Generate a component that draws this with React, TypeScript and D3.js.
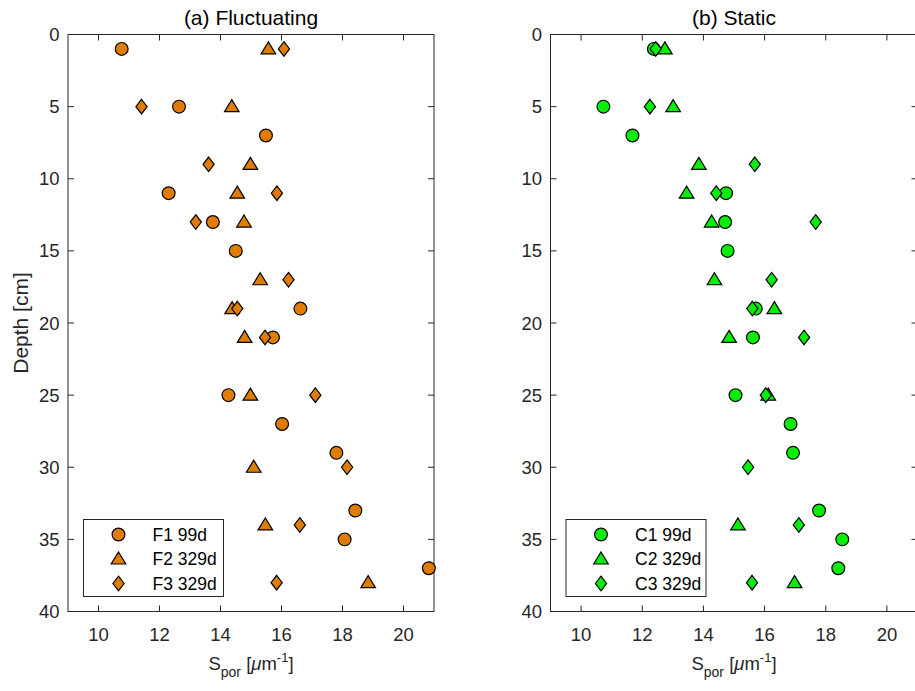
import React from 'react';
import * as d3 from 'd3';

// ---- data ----
const xTicks = [10, 12, 14, 16, 18, 20];
const yTicks = [0, 5, 10, 15, 20, 25, 30, 35, 40];

const depthsF1 = [1, 5, 7, 11, 13, 15, 19, 21, 25, 27, 29, 33, 35, 37];
const valuesF1 = [10.76, 12.64, 15.49, 12.3, 13.75, 14.5, 16.62, 15.72, 14.26, 16.02, 17.8, 18.42, 18.07, 20.83];
const depthsF2 = [1, 5, 9, 11, 13, 17, 19, 21, 25, 30, 34, 38];
const valuesF2 = [15.57, 14.37, 14.98, 14.55, 14.77, 15.3, 14.38, 14.79, 14.98, 15.09, 15.47, 18.84];
const depthsF3 = [1, 5, 9, 11, 13, 17, 19, 21, 25, 30, 34, 38];
const valuesF3 = [16.08, 11.41, 13.61, 15.85, 13.19, 16.23, 14.55, 15.46, 17.11, 18.15, 16.6, 15.84];

const depthsC1 = [1, 5, 7, 11, 13, 15, 19, 21, 25, 27, 29, 33, 35, 37];
const valuesC1 = [12.38, 10.73, 11.68, 14.74, 14.71, 14.79, 15.71, 15.62, 15.05, 16.85, 16.93, 17.78, 18.54, 18.41];
const depthsC2 = [1, 5, 9, 11, 13, 17, 19, 21, 25, 34, 38];
const valuesC2 = [12.74, 13.01, 13.85, 13.45, 14.27, 14.36, 16.32, 14.84, 16.12, 15.13, 16.98];
const depthsC3 = [1, 5, 9, 11, 13, 17, 19, 21, 25, 30, 34, 38];
const valuesC3 = [12.44, 12.25, 15.68, 14.42, 17.67, 16.23, 15.6, 17.29, 16.04, 15.46, 17.12, 15.59];

const labelsF = ['F1 99d', 'F2 329d', 'F3 329d'];
const labelsC = ['C1 99d', 'C2 329d', 'C3 329d'];

const ORANGE = '#E07D00';
const GREEN = '#05EE05';
const AXIS = '#262626';
const FONT = '"Liberation Sans", Arial, Helvetica, sans-serif';

type Shape = 'circle' | 'triangle' | 'diamond';

function Marker({ shape, x, y, fill }: { shape: Shape; x: number; y: number; fill: string }) {
  const common = { fill, stroke: '#000', strokeWidth: 1.2 };
  if (shape === 'circle') return <circle cx={x} cy={y} r={6.4} {...common} />;
  if (shape === 'triangle') {
    const p = d3.path();
    p.moveTo(x, y - 7);
    p.lineTo(x + 7.3, y + 5);
    p.lineTo(x - 7.3, y + 5);
    p.closePath();
    return <path d={p.toString()} {...common} />;
  }
  const p = d3.path();
  p.moveTo(x, y - 7.3);
  p.lineTo(x + 5.6, y);
  p.lineTo(x, y + 7.3);
  p.lineTo(x - 5.6, y);
  p.closePath();
  return <path d={p.toString()} {...common} />;
}

interface PanelProps {
  x0: number;
  x1: number;
  title: string;
  color: string;
  series: { depths: number[]; values: number[]; shape: Shape }[];
  labels: string[];
  showYLabel: boolean;
}

const Y0 = 34.5;
const Y1 = 611.5;

function Panel({ x0, x1, title, color, series, labels, showYLabel }: PanelProps) {
  const xs = d3.scaleLinear().domain([9, 21]).range([x0, x1]);
  const ys = d3.scaleLinear().domain([0, 40]).range([Y0, Y1]);
  const tl = 6;
  const cx = (x0 + x1) / 2;
  const lgX = x0 + 15.5;
  const lgY = 519.5;
  const lgW = 140;
  return (
    <g>
      <rect x={x0} y={Y0} width={x1 - x0} height={Y1 - Y0} fill="#fff" />
      {xTicks.map((t) => (
        <g key={'xt' + t}>
          <line x1={xs(t)} x2={xs(t)} y1={Y1} y2={Y1 - tl} stroke={AXIS} />
          <line x1={xs(t)} x2={xs(t)} y1={Y0} y2={Y0 + tl} stroke={AXIS} />
          <text x={xs(t)} y={641} textAnchor="middle" fontSize={18.5} fill={AXIS} fontFamily={FONT}>
            {t}
          </text>
        </g>
      ))}
      {yTicks.map((t) => (
        <g key={'yt' + t}>
          <line x1={x0} x2={x0 + tl} y1={ys(t)} y2={ys(t)} stroke={AXIS} />
          <line x1={x1} x2={x1 - tl} y1={ys(t)} y2={ys(t)} stroke={AXIS} />
          <text x={x0 - 8.5} y={ys(t) + 6.5} textAnchor="end" fontSize={18.5} fill={AXIS} fontFamily={FONT}>
            {t}
          </text>
        </g>
      ))}
      <rect x={x0} y={Y0} width={x1 - x0} height={Y1 - Y0} fill="none" stroke={AXIS} />
      {series.map((s, i) => (
        <g key={'s' + i}>
          {s.values.map((v, j) => (
            <Marker key={j} shape={s.shape} x={xs(v)} y={ys(s.depths[j])} fill={color} />
          ))}
        </g>
      ))}
      <rect x={lgX} y={lgY} width={lgW} height={77} fill="#fff" stroke={AXIS} />
      {labels.map((l, i) => (
        <g key={'lg' + i}>
          <Marker shape={series[i].shape} x={lgX + 35} y={lgY + 15 + i * 24.5} fill={color} />
          <text x={lgX + 69} y={lgY + 21 + i * 24.5} fontSize={17.5} fill="#000" fontFamily={FONT}>
            {l}
          </text>
        </g>
      ))}
      <text x={cx} y={25} textAnchor="middle" fontSize={21} fill="#000" fontFamily={FONT}>
        {title}
      </text>
      <text x={cx} y={670} textAnchor="middle" fontSize={18.5} fill={AXIS} fontFamily={FONT}>
        <tspan>S</tspan>
        <tspan dy={7} fontSize={14}>por</tspan>
        <tspan dy={-7}> [</tspan>
        <tspan fontStyle="italic">μ</tspan>
        <tspan>m</tspan>
        <tspan dy={-8} fontSize={13}>-1</tspan>
        <tspan dy={8}>]</tspan>
      </text>
      {showYLabel && (
        <text
          transform={`translate(28, ${(Y0 + Y1) / 2}) rotate(-90)`}
          textAnchor="middle"
          fontSize={21}
          fill={AXIS}
          fontFamily={FONT}
        >
          Depth [cm]
        </text>
      )}
    </g>
  );
}

export default function App() {
  return (
    <div style={{ position: 'absolute', left: 0, top: 0 }}>
      <svg width={915} height={691} style={{ display: 'block', background: '#fff' }}>
        <rect width={915} height={691} fill="#fff" />
        <Panel
          x0={68}
          x1={434}
          title="(a) Fluctuating"
          color={ORANGE}
          labels={labelsF}
          showYLabel={true}
          series={[
            { depths: depthsF1, values: valuesF1, shape: 'circle' },
            { depths: depthsF2, values: valuesF2, shape: 'triangle' },
            { depths: depthsF3, values: valuesF3, shape: 'diamond' },
          ]}
        />
        <Panel
          x0={550.5}
          x1={917.5}
          title="(b) Static"
          color={GREEN}
          labels={labelsC}
          showYLabel={false}
          series={[
            { depths: depthsC1, values: valuesC1, shape: 'circle' },
            { depths: depthsC2, values: valuesC2, shape: 'triangle' },
            { depths: depthsC3, values: valuesC3, shape: 'diamond' },
          ]}
        />
      </svg>
    </div>
  );
}
